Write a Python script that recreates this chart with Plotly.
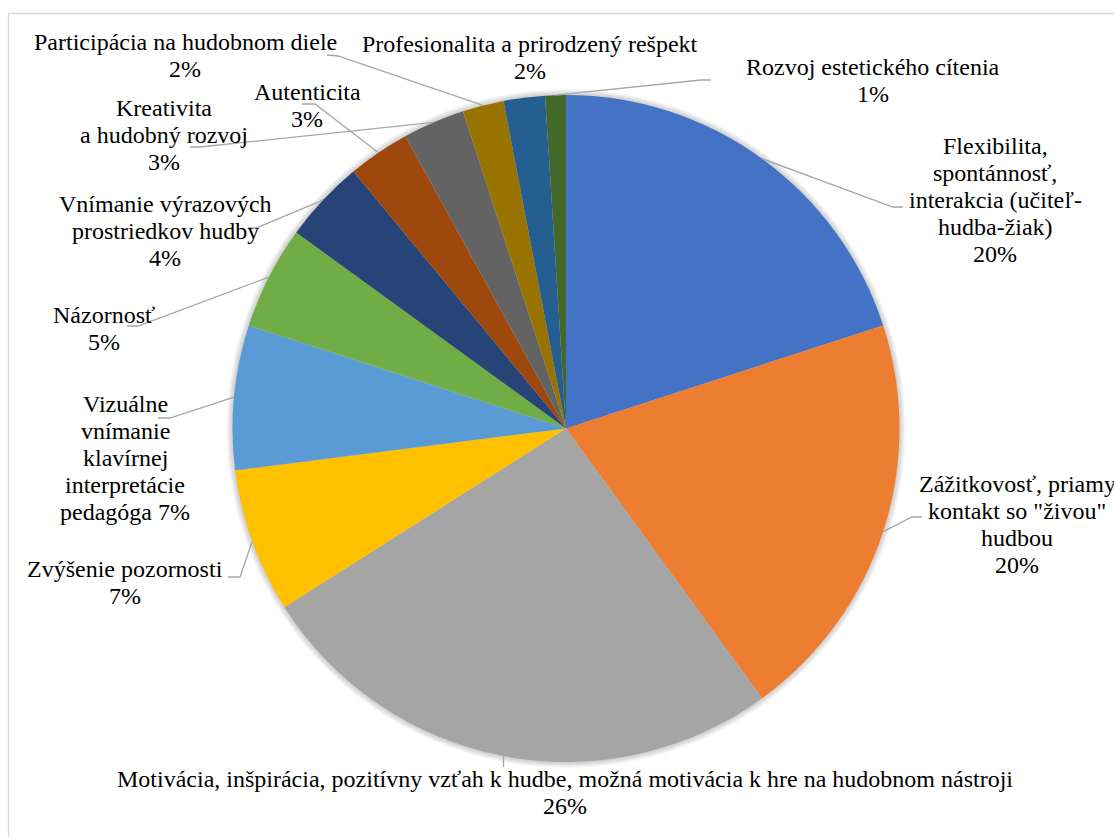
import math
import plotly.graph_objects as go

# Survey categories (line breaks mark how each label wraps) and their shares in %
categories = [
    "Flexibilita,\nspontánnosť,\ninterakcia (učiteľ-\nhudba-žiak)",
    "Zážitkovosť, priamy\nkontakt so \"živou\"\nhudbou",
    "Motivácia, inšpirácia, pozitívny vzťah k hudbe, možná motivácia k hre na hudobnom nástroji",
    "Zvýšenie pozornosti",
    "Vizuálne\nvnímanie\nklavírnej\ninterpretácie\npedagóga",
    "Názornosť",
    "Vnímanie výrazových\nprostriedkov hudby",
    "Autenticita",
    "Kreativita\na hudobný rozvoj",
    "Participácia na hudobnom diele",
    "Profesionalita a prirodzený rešpekt",
    "Rozvoj estetického cítenia",
]
shares = [20, 20, 26, 7, 7, 5, 4, 3, 3, 2, 2, 1]

colors = [
    "#4472C4", "#ED7D31", "#A5A5A5", "#FFC000", "#5B9BD5", "#70AD47",
    "#264478", "#9E480E", "#636363", "#997300", "#255E91", "#43682B",
]

# ---- page geometry (pixels) ----
W, H = 1114, 837
CX, CY, R = 566.0, 428.5, 333.5
FONT = "'Times New Roman', 'Liberation Serif', 'DejaVu Serif', serif"
FS = 24
STEP = 27.0
LINE_COLOR = "#A6A6A6"


def px(x):
    return x / W


def py(y):
    return 1 - y / H


def plain(name):
    return name.replace("-\n", "-").replace("\n", " ")


# Label placement: centre x, first-line y, percent on its own line or not
label_pos = [
    (995, 146, False),
    (1017, 484, False),
    (565, 779, False),
    (125, 569, False),
    (125, 404, True),
    (104, 315, False),
    (165, 204, False),
    (307, 92, False),
    (164, 108, False),
    (185, 42, False),
    (530, 44, False),
    (873, 67, False),
]

# Leader lines: (tail, elbow) on the label side; None = no leader
leaders = [
    ((903, 207), (893, 207)),
    ((922, 517), (912, 517)),
    ("vertical", 767),
    ((228, 577), (240, 577)),
    ((158, 418), (170, 418)),
    ((127, 326), (138, 326)),
    ((248, 228), (256, 228)),
    ((302, 104), (315, 104)),
    ((190, 147), (200, 147)),
    ((327, 55), (338, 56)),
    None,
    ((711, 80), (701, 80)),
]

fig = go.Figure()
fig.add_trace(go.Pie(
    labels=[plain(c) for c in categories],
    values=shares,
    sort=False,
    direction="clockwise",
    rotation=0,
    textinfo="none",
    hoverinfo="label+percent",
    marker=dict(colors=colors, line=dict(width=0)),
    showlegend=False,
    domain=dict(x=[px(CX - R), px(CX + R)], y=[py(CY + R), py(CY - R)]),
))

shapes = []
# chart area border
shapes.append(dict(type="rect", xref="paper", yref="paper",
                   x0=px(8.5), x1=px(W + 20), y0=py(H + 20), y1=py(13.5),
                   line=dict(color="#D9D9D9", width=1.3), fillcolor="rgba(0,0,0,0)",
                   layer="below"))
# soft shadow around the pie
for k in range(6, 0, -1):
    rr = R + k
    shapes.append(dict(type="circle", xref="paper", yref="paper",
                       x0=px(CX - rr), x1=px(CX + rr), y0=py(CY + rr), y1=py(CY - rr),
                       line=dict(width=0), fillcolor="rgba(0,0,0,0.03)", layer="below"))

total = sum(shares)
annotations = []
cum = 0.0
for i, (name, v) in enumerate(zip(categories, shares)):
    mid = (cum + v / 2) / total * 2 * math.pi
    cum += v
    ex = CX + R * math.sin(mid)
    ey = CY - R * math.cos(mid)

    ld = leaders[i]
    if ld is not None:
        if ld[0] == "vertical":
            path = f"M {px(ex)},{py(ld[1])} L {px(ex)},{py(ey)}"
        else:
            (tx, ty), (bx, by) = ld
            path = f"M {px(tx)},{py(ty)} L {px(bx)},{py(by)} L {px(ex)},{py(ey)}"
        shapes.append(dict(type="path", xref="paper", yref="paper", path=path,
                           line=dict(color=LINE_COLOR, width=1.3)))

    lines = name.split("\n")
    pct = f"{round(v / total * 100)}%"
    cx, y0, inline = label_pos[i]
    if inline:
        lines[-1] = lines[-1] + " " + pct
    else:
        lines.append(pct)
    for j, ln in enumerate(lines):
        annotations.append(dict(
            x=px(cx), y=py(y0 + j * STEP), xref="paper", yref="paper",
            text=ln, showarrow=False, xanchor="center", yanchor="middle",
            font=dict(family=FONT, size=FS, color="black"),
        ))

fig.update_layout(
    width=W, height=H,
    margin=dict(l=0, r=0, t=0, b=0),
    paper_bgcolor="white",
    plot_bgcolor="white",
    font=dict(family=FONT),
    shapes=shapes,
    annotations=annotations,
)

fig.write_html("out.html")
